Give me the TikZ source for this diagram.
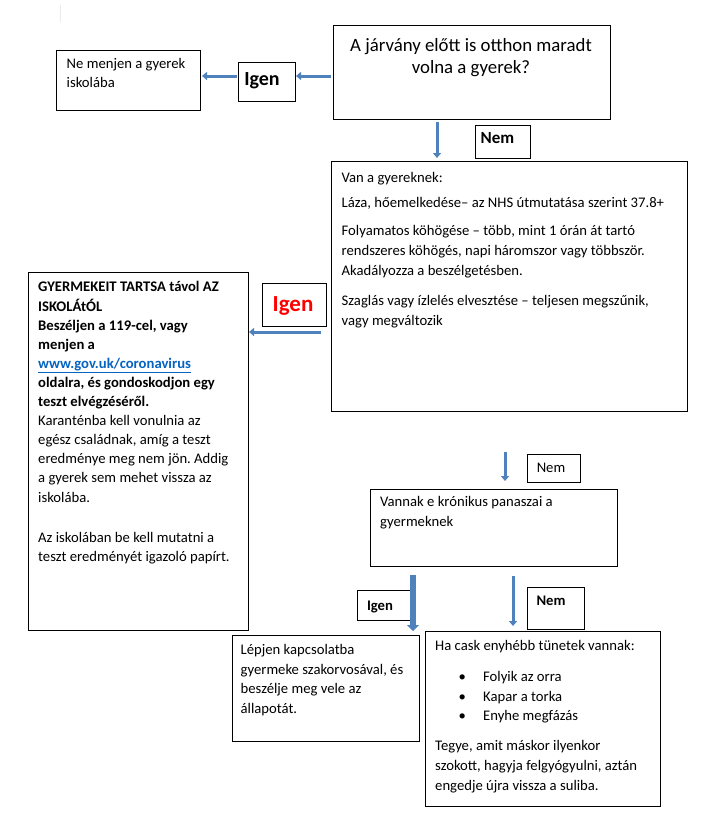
\documentclass[tikz,border=0pt]{standalone}
\usepackage{fontspec}
\setmainfont{Carlito}
\usetikzlibrary{arrows.meta,calc}
\definecolor{arrowblue}{RGB}{79,129,189}
\definecolor{linkblue}{RGB}{5,99,193}
\definecolor{igenred}{RGB}{255,0,0}
\newcommand\nt{\fontsize{14.67pt}{19.5pt}\selectfont}
\newcommand\fst{\rule{0pt}{12pt}}
\frenchspacing
\begin{document}
\begin{tikzpicture}[x=1pt,y=-1pt,
  box/.style={draw=black,line width=0.9pt,inner sep=0pt,anchor=north west,fill=white},
  txt/.style={anchor=north west,inner sep=0pt,align=left,font=\nt},
  lbl/.style={anchor=base,inner sep=0pt},
  blk/.style={draw=arrowblue,line width=3pt,-{Triangle[length=5pt,width=8pt]}},
  blkthick/.style={draw=arrowblue,line width=6pt,-{Triangle[length=6pt,width=12pt]}}]
\useasboundingbox (0,0) rectangle (720,828);
\fill[white] (0,0) rectangle (720,828);
\draw[black!8,line width=0.6pt] (60,5) -- (60,22);

% boxes
\node[box,minimum width=277pt,minimum height=94pt] (q1) at (333,25) {};
\node[box,minimum width=144pt,minimum height=60pt] (ne) at (56,50) {};
\node[box,minimum width=57pt,minimum height=39pt] (igen1) at (238,62) {};
\node[box,minimum width=55pt,minimum height=33pt] (nem1) at (475,125) {};
\node[box,minimum width=356pt,minimum height=250pt] (van) at (331,161) {};
\node[box,minimum width=220pt,minimum height=358pt] (tarts) at (28,272) {};
\node[box,minimum width=64pt,minimum height=43pt] (igen2) at (262,283) {};
\node[box,minimum width=53pt,minimum height=28pt] (nem2) at (527,454) {};
\node[box,minimum width=247pt,minimum height=77pt] (vannak) at (370,489) {};
\node[box,minimum width=53pt,minimum height=30pt] (igen3) at (357,590) {};
\node[box,minimum width=57pt,minimum height=42pt] (nem3) at (527,587) {};
\node[box,minimum width=187pt,minimum height=106pt] (lepj) at (232,635) {};
\node[box,minimum width=235pt,minimum height=175pt] (ha) at (425,631) {};

% texts
\node[anchor=north,inner sep=0pt,align=center,font=\fontsize{18.8pt}{22.5pt}\selectfont] (q1t) at (471,36)
  {\rule{0pt}{15pt}A járvány előtt is otthon maradt\\volna a gyerek?};
\node[txt] (net) at (66.5,56.5) {\fst Ne menjen a gyerek\\[-0.5pt]iskolába};
\node[lbl,font=\fontsize{20pt}{24pt}\selectfont\bfseries] (igen1t) at (262,85) {Igen};
\node[lbl,font=\fontsize{17pt}{20pt}\selectfont\bfseries] (nem1t) at (497.5,143.3) {Nem};
\node[txt] (vant) at (341.5,170) {\fst Van a gyereknek:\\[6pt]
Láza, hőemelkedése– az NHS útmutatása szerint 37.8+\\[8pt]
Folyamatos köhögése – több, mint 1 órán át tartó\\[0.5pt]
rendszeres köhögés, napi háromszor vagy többször.\\[0.5pt]
Akadályozza a beszélgetésben.\\[10.5pt]
Szaglás vagy ízlelés elvesztése – teljesen megszűnik,\\[0.5pt]
vagy megváltozik};
\node[txt,font=\fontsize{14.67pt}{19.1pt}\selectfont] (tartst) at (38,279.7) {\fst\bfseries GYERMEKEIT TARTSA távol AZ\\
\bfseries ISKOLÁtÓL\\
\bfseries Beszéljen a 119-cel, vagy\\
\bfseries menjen a\\
\bfseries\color{linkblue}\underline{www.gov.uk/coronavirus}\\
\bfseries oldalra, és gondoskodjon egy\\
\bfseries teszt elvégzéséről.\\
Karanténba kell vonulnia az\\
egész családnak, amíg a teszt\\
eredménye meg nem jön. Addig\\
a gyerek sem mehet vissza az\\
iskolába.\\[20.9pt]
Az iskolában be kell mutatni a\\
teszt eredményét igazoló papírt.};
\node[lbl,font=\fontsize{23pt}{26pt}\selectfont\bfseries,text=igenred] (igen2t) at (293,311.5) {Igen};
\node[lbl,font=\nt] (nem2t) at (551,472.3) {Nem};
\node[txt] (vannakt) at (380,494.7) {\fst Vannak e krónikus panaszai a\\gyermeknek};
\node[lbl,font=\nt\bfseries] (igen3t) at (380,610) {Igen};
\node[lbl,font=\nt\bfseries] (nem3t) at (551,605.7) {Nem};
\node[txt] (lepjt) at (240.5,642.5) {\fst Lépjen kapcsolatba\\gyermeke szakorvosával, és\\beszélje meg vele az\\állapotát.};
\node[txt] (hat) at (435,638) {\fst Ha cask enyhébb tünetek vannak:\\[11.5pt]
\hspace*{27pt}\makebox[0pt]{\textbullet}\hspace*{21pt}Folyik az orra\\[0.5pt]
\hspace*{27pt}\makebox[0pt]{\textbullet}\hspace*{21pt}Kapar a torka\\[0pt]
\hspace*{27pt}\makebox[0pt]{\textbullet}\hspace*{21pt}Enyhe megfázás\\[10.5pt]
Tegye, amit máskor ilyenkor\\[0.5pt]
szokott, hagyja felgyógyulni, aztán\\[0.5pt]
engedje újra vissza a suliba.};

% arrow end points
\coordinate (a1s) at (331,76); \coordinate (a1e) at (296,76);
\coordinate (a2s) at (237,76); \coordinate (a2e) at (202,76);
\coordinate (a3s) at (437,122); \coordinate (a3e) at (437,158);
\coordinate (a4s) at (321,332); \coordinate (a4e) at (249,332);
\coordinate (a5s) at (505,452); \coordinate (a5e) at (505,481);
\coordinate (a6s) at (413,575); \coordinate (a6e) at (413,631);
\coordinate (a7s) at (513,576); \coordinate (a7e) at (513,626);

\draw[blk] (a1s) -- (a1e);
\draw[blk] (a2s) -- (a2e);
\draw[blk] (a3s) -- (a3e);
\draw[blk] (a4s) -- (a4e);
\draw[blk] (a5s) -- (a5e);
\draw[blkthick] (a6s) -- (a6e);
\draw[blk] (a7s) -- (a7e);
\end{tikzpicture}
\end{document}
